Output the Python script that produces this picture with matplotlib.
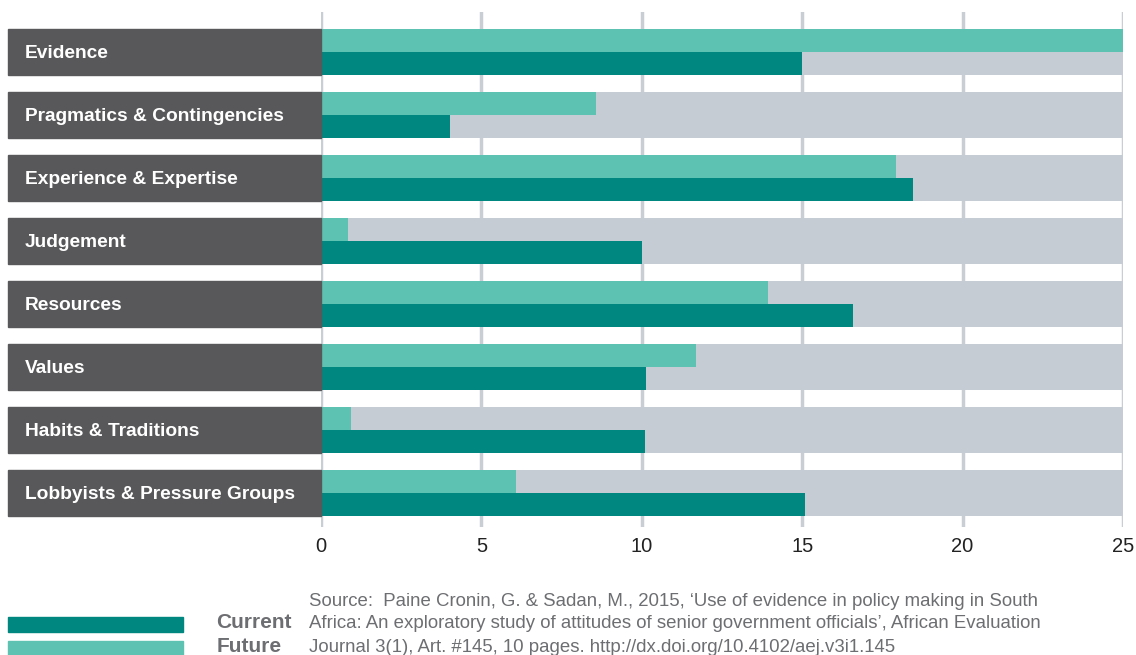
import matplotlib
matplotlib.use('Agg')
import matplotlib.pyplot as plt
from matplotlib.patches import Rectangle
from matplotlib.transforms import blended_transform_factory

categories = ['Evidence', 'Pragmatics & Contingencies', 'Experience & Expertise',
              'Judgement', 'Resources', 'Values', 'Habits & Traditions',
              'Lobbyists & Pressure Groups']
future = [25.0, 8.57, 17.92, 0.84, 13.93, 11.69, 0.94, 6.08]
current = [15.0, 4.02, 18.45, 10.02, 16.58, 10.13, 10.1, 15.09]
xmax = 25
xticks = [0, 5, 10, 15, 20, 25]
source_lines = [
    "Source:  Paine Cronin, G. & Sadan, M., 2015, \u2018Use of evidence in policy making in South",
    "Africa: An exploratory study of attitudes of senior government officials\u2019, African Evaluation",
    "Journal 3(1), Art. #145, 10 pages. http://dx.doi.org/10.4102/aej.v3i1.145",
]

C_FUT = '#5dc2b1'
C_CUR = '#00877f'
C_BAND = '#c5ccd3'
C_LABEL = '#58585a'
C_GRID = '#c9ced4'
C_TEXT = '#6d6e71'

plt.rcParams['font.family'] = ['Liberation Sans', 'DejaVu Sans']
W, H = 1136, 655
fig = plt.figure(figsize=(W / 100, H / 100), dpi=100)

x0, x1 = 321, 1123
ytop, ybot = 12, 527
ax = fig.add_axes([x0 / W, 1 - ybot / H, (x1 - x0) / W, (ybot - ytop) / H])

n = len(categories)
ys = list(range(n))
band_h = 46 / 63
half = band_h / 2

ax.barh(ys, [xmax] * n, height=band_h, color=C_BAND, zorder=1)
ax.barh([y - half / 2 for y in ys], future, height=half, color=C_FUT, zorder=2)
ax.barh([y + half / 2 for y in ys], current, height=half, color=C_CUR, zorder=2)

# label boxes to the left of the axis
trans = blended_transform_factory(ax.transAxes, ax.transData)
left = -(x0 - 8) / (x1 - x0)
for y, name in zip(ys, categories):
    ax.add_patch(Rectangle((left, y - half), -left, band_h, transform=trans,
                           color=C_LABEL, clip_on=False, zorder=3))
    ax.text(left + 17 / (x1 - x0), y + 0.02, name, transform=trans, color='white',
            fontsize=13.8, fontweight='bold', va='center', ha='left', zorder=4)

ax.set_xlim(0, xmax)
ax.set_ylim(n - 1 + 0.54, -0.635)
ax.set_xticks(xticks)
ax.set_yticks([])
ax.xaxis.grid(True, color=C_GRID, linewidth=2.5, zorder=0)
ax.set_axisbelow(True)
ax.tick_params(axis='x', length=0, pad=7, labelsize=14.5, labelcolor='#222222')
for s in ax.spines.values():
    s.set_visible(False)

# legend
fig.patches.append(Rectangle((8 / W, 1 - 632 / H), 175 / W, 15 / H,
                             transform=fig.transFigure, color=C_CUR))
fig.patches.append(Rectangle((8 / W, 1 - 656 / H), 175 / W, 15 / H,
                             transform=fig.transFigure, color=C_FUT))
fig.text(292 / W, 1 - 623 / H, 'Current', ha='right', va='center',
         fontsize=15, fontweight='bold', color=C_TEXT)
fig.text(282 / W, 1 - 647 / H, 'Future', ha='right', va='center',
         fontsize=15, fontweight='bold', color=C_TEXT)
for i, line in enumerate(source_lines):
    fig.text(309 / W, 1 - (601 + 23 * i) / H, line, ha='left', va='center',
             fontsize=13.4, color=C_TEXT)

fig.savefig('out.png', dpi=100)
